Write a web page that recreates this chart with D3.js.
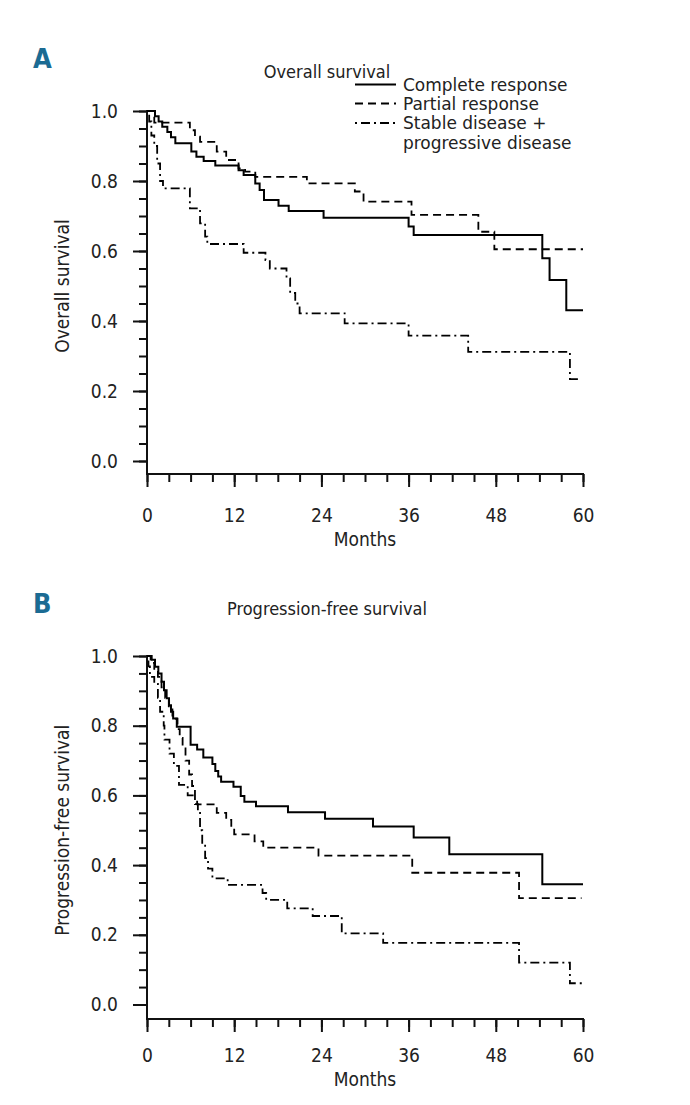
<!DOCTYPE html>
<html><head><meta charset="utf-8">
<script src="https://cdn.jsdelivr.net/npm/d3@7"></script>
<style>
html,body{margin:0;padding:0;background:#fff;}
svg text{font-family:"DejaVu Sans Condensed","DejaVu Sans",sans-serif;font-stretch:condensed;fill:#222;}
</style></head>
<body>
<svg id="chart" width="690" height="1105"></svg>
<script>
// ---------- data ----------
const monthTicks = [0, 12, 24, 36, 48, 60];
const survTicks = [0, 0.2, 0.4, 0.6, 0.8, 1.0];
const seriesNames = ["Complete response", "Partial response", "Stable disease +", "progressive disease"];

// Panel A: overall survival (step times in months, survival after each step)
const osCRTimes = [0, 1.1, 1.6, 2.1, 2.8, 3.3, 3.9, 6.1, 6.8, 7.8, 9.4, 12.6, 13.3, 14.9, 15.5, 16.1, 18.1, 19.5, 24.3, 36.0, 36.7, 54.4, 55.4, 57.7, 60];
const osCRSurv  = [1, 0.985, 0.97, 0.955, 0.94, 0.925, 0.908, 0.884, 0.869, 0.857, 0.844, 0.831, 0.817, 0.793, 0.774, 0.746, 0.729, 0.714, 0.695, 0.67, 0.646, 0.579, 0.517, 0.431, 0.431];
const osPRTimes = [0, 1.0, 5.9, 6.6, 7.3, 9.6, 10.9, 12.6, 13.5, 14.9, 22.0, 28.6, 29.8, 36.4, 45.6, 47.8, 60];
const osPRSurv  = [1, 0.967, 0.945, 0.927, 0.912, 0.884, 0.86, 0.836, 0.827, 0.812, 0.793, 0.77, 0.741, 0.703, 0.655, 0.605, 0.605];
const osSDTimes = [0, 0.3, 0.6, 1.0, 1.4, 1.8, 2.2, 5.9, 7.3, 8.0, 8.3, 13.3, 16.3, 16.9, 19.2, 19.7, 20.4, 21.0, 27.2, 36.0, 44.2, 58.2, 59.8];
const osSDSurv  = [1, 0.97, 0.93, 0.90, 0.85, 0.80, 0.779, 0.722, 0.679, 0.641, 0.62, 0.595, 0.574, 0.55, 0.522, 0.48, 0.45, 0.422, 0.393, 0.358, 0.312, 0.234, 0.234];

// Panel B: progression-free survival
const pfsCRTimes = [0, 0.64, 1.1, 1.56, 2.0, 2.34, 2.7, 3.03, 3.3, 3.6, 4.1, 6.0, 6.9, 7.75, 9.0, 9.4, 9.8, 10.2, 11.9, 12.9, 13.4, 15.0, 19.4, 24.5, 31.1, 36.7, 41.6, 54.4, 60];
const pfsCRSurv  = [1, 0.989, 0.969, 0.95, 0.926, 0.902, 0.879, 0.859, 0.84, 0.821, 0.797, 0.745, 0.732, 0.709, 0.69, 0.67, 0.654, 0.639, 0.625, 0.598, 0.582, 0.569, 0.552, 0.533, 0.511, 0.479, 0.431, 0.345, 0.345];
const pfsPRTimes = [0, 0.5, 1.0, 1.5, 2.0, 2.5, 3.0, 3.5, 4.2, 4.5, 4.9, 5.3, 5.8, 6.2, 6.6, 6.9, 9.6, 10.9, 11.6, 12.0, 14.8, 16.0, 23.6, 36.5, 51.2, 59.8];
const pfsPRSurv  = [1, 0.98, 0.96, 0.94, 0.91, 0.88, 0.85, 0.82, 0.79, 0.765, 0.735, 0.70, 0.66, 0.627, 0.595, 0.574, 0.55, 0.53, 0.51, 0.488, 0.468, 0.45, 0.427, 0.378, 0.305, 0.305];
const pfsSDTimes = [0, 0.2, 0.4, 1.0, 1.5, 1.8, 2.3, 2.4, 3.1, 3.7, 4.4, 5.6, 6.6, 7.0, 7.3, 7.6, 8.0, 8.4, 9.0, 11.1, 15.9, 16.4, 19.3, 22.8, 26.8, 32.5, 51.2, 58.2, 60];
const pfsSDSurv  = [1, 0.97, 0.94, 0.92, 0.88, 0.84, 0.80, 0.76, 0.72, 0.685, 0.63, 0.60, 0.575, 0.55, 0.50, 0.46, 0.42, 0.39, 0.362, 0.343, 0.32, 0.30, 0.276, 0.254, 0.204, 0.177, 0.12, 0.061, 0.061];

// ---------- drawing ----------
const svg = d3.select("#chart");
const x = d3.scaleLinear().domain([0, 60]).range([147, 583]);
const styles = [
  {dash: null, width: 2},
  {dash: "8,5", width: 1.8},
  {dash: "2,4,9,4", width: 1.8}
];

function panel(opts) {
  const y = d3.scaleLinear().domain([0, 1]).range([opts.y0, opts.y1]);
  const g = svg.append("g");
  const axisY = opts.axisY;

  // panel letter
  g.append("text").attr("x", 33).attr("y", opts.letterY)
    .style("font-family", '"Liberation Sans Narrow","DejaVu Sans Condensed",sans-serif')
    .style("font-weight", "bold").style("font-size", "27px").style("fill", "#1b6b93")
    .text(opts.letter);
  // title
  g.append("text").attr("x", 327).attr("y", opts.titleY).attr("text-anchor", "middle")
    .style("font-size", "18px").text(opts.title);

  // x axis: minor + major
  const xg = g.append("g").attr("transform", `translate(0,${axisY})`);
  xg.append("g").call(d3.axisBottom(x).tickValues(d3.range(0, 61, 3)).tickSize(8).tickSizeOuter(0).tickFormat(""))
    .call(s => s.select(".domain").remove());
  const xmaj = xg.append("g").call(d3.axisBottom(x).tickValues(monthTicks).tickSize(13).tickSizeOuter(0).tickFormat(d3.format("d")))
    .call(s => s.select(".domain").remove());
  xmaj.selectAll("text").attr("y", opts.tickLabelDy).attr("dy", null).style("font-size", "19px").style("font-family", null).attr("fill", "#222");
  xg.selectAll("line").attr("stroke", "#111").attr("stroke-width", 2);
  xg.append("line").attr("x1", x(0) - 1).attr("x2", x(60) + 1).attr("y1", 0).attr("y2", 0)
    .attr("stroke", "#111").attr("stroke-width", 2);

  // y axis
  const yg = g.append("g").attr("transform", `translate(${x(0)},0)`);
  yg.append("g").call(d3.axisLeft(y).tickValues(d3.range(0, 1.0001, 0.05)).tickSize(8).tickSizeOuter(0).tickFormat(""))
    .call(s => s.select(".domain").remove());
  const ymaj = yg.append("g").call(d3.axisLeft(y).tickValues(survTicks).tickSize(14).tickSizeOuter(0).tickFormat(d3.format(".1f")))
    .call(s => s.select(".domain").remove());
  ymaj.selectAll("text").attr("x", -29).style("font-size", "19px").style("font-family", null).attr("fill", "#222");
  yg.selectAll("line").attr("stroke", "#111").attr("stroke-width", 2);
  yg.append("line").attr("x1", 0).attr("x2", 0).attr("y1", y(1) - 1).attr("y2", axisY)
    .attr("stroke", "#111").attr("stroke-width", 2);

  // axis titles
  g.append("text").attr("x", (x(0) + x(60)) / 2).attr("y", axisY + opts.monthsDy).attr("text-anchor", "middle")
    .style("font-size", "19px").text("Months");
  g.append("text").attr("transform", `translate(62,${(y(0) + y(1)) / 2}) rotate(-90)`)
    .attr("text-anchor", "middle").attr("dy", "0.35em").style("font-size", "19px").text(opts.ylabel);

  // curves
  const line = d3.line().x(d => x(d[0])).y(d => y(d[1])).curve(d3.curveStepAfter);
  opts.series.forEach((s, i) => {
    const pts = s.t.map((t, k) => [t, s.s[k]]);
    g.append("path").datum(pts).attr("d", line).attr("fill", "none")
      .attr("stroke", "#000").attr("stroke-width", styles[i].width)
      .attr("stroke-dasharray", styles[i].dash);
  });
}

panel({letter: "A", letterY: 68, title: "Overall survival", titleY: 78, y0: 461, y1: 111, axisY: 474,
  tickLabelDy: 48, monthsDy: 72,
  ylabel: "Overall survival",
  series: [{t: osCRTimes, s: osCRSurv}, {t: osPRTimes, s: osPRSurv}, {t: osSDTimes, s: osSDSurv}]});
panel({letter: "B", letterY: 613, title: "Progression-free survival", titleY: 615, y0: 1004.5, y1: 656, axisY: 1019,
  tickLabelDy: 43, monthsDy: 67,
  ylabel: "Progression-free survival",
  series: [{t: pfsCRTimes, s: pfsCRSurv}, {t: pfsPRTimes, s: pfsPRSurv}, {t: pfsSDTimes, s: pfsSDSurv}]});

// legend (panel A)
const legRows = [84.5, 103.5, 123];
const legText = (ly, str) => svg.append("text")
  .attr("transform", `translate(403,${ly}) scale(1.08,1)`)
  .attr("dy", "0.35em").style("font-size", "17.5px").text(str);
legRows.forEach((ly, i) => {
  svg.append("line").attr("x1", 355).attr("x2", 396).attr("y1", ly).attr("y2", ly)
    .attr("stroke", "#000").attr("stroke-width", styles[i].width).attr("stroke-dasharray", styles[i].dash);
  legText(ly, seriesNames[i]);
});
legText(142.5, seriesNames[3]);
</script>
</body></html>
